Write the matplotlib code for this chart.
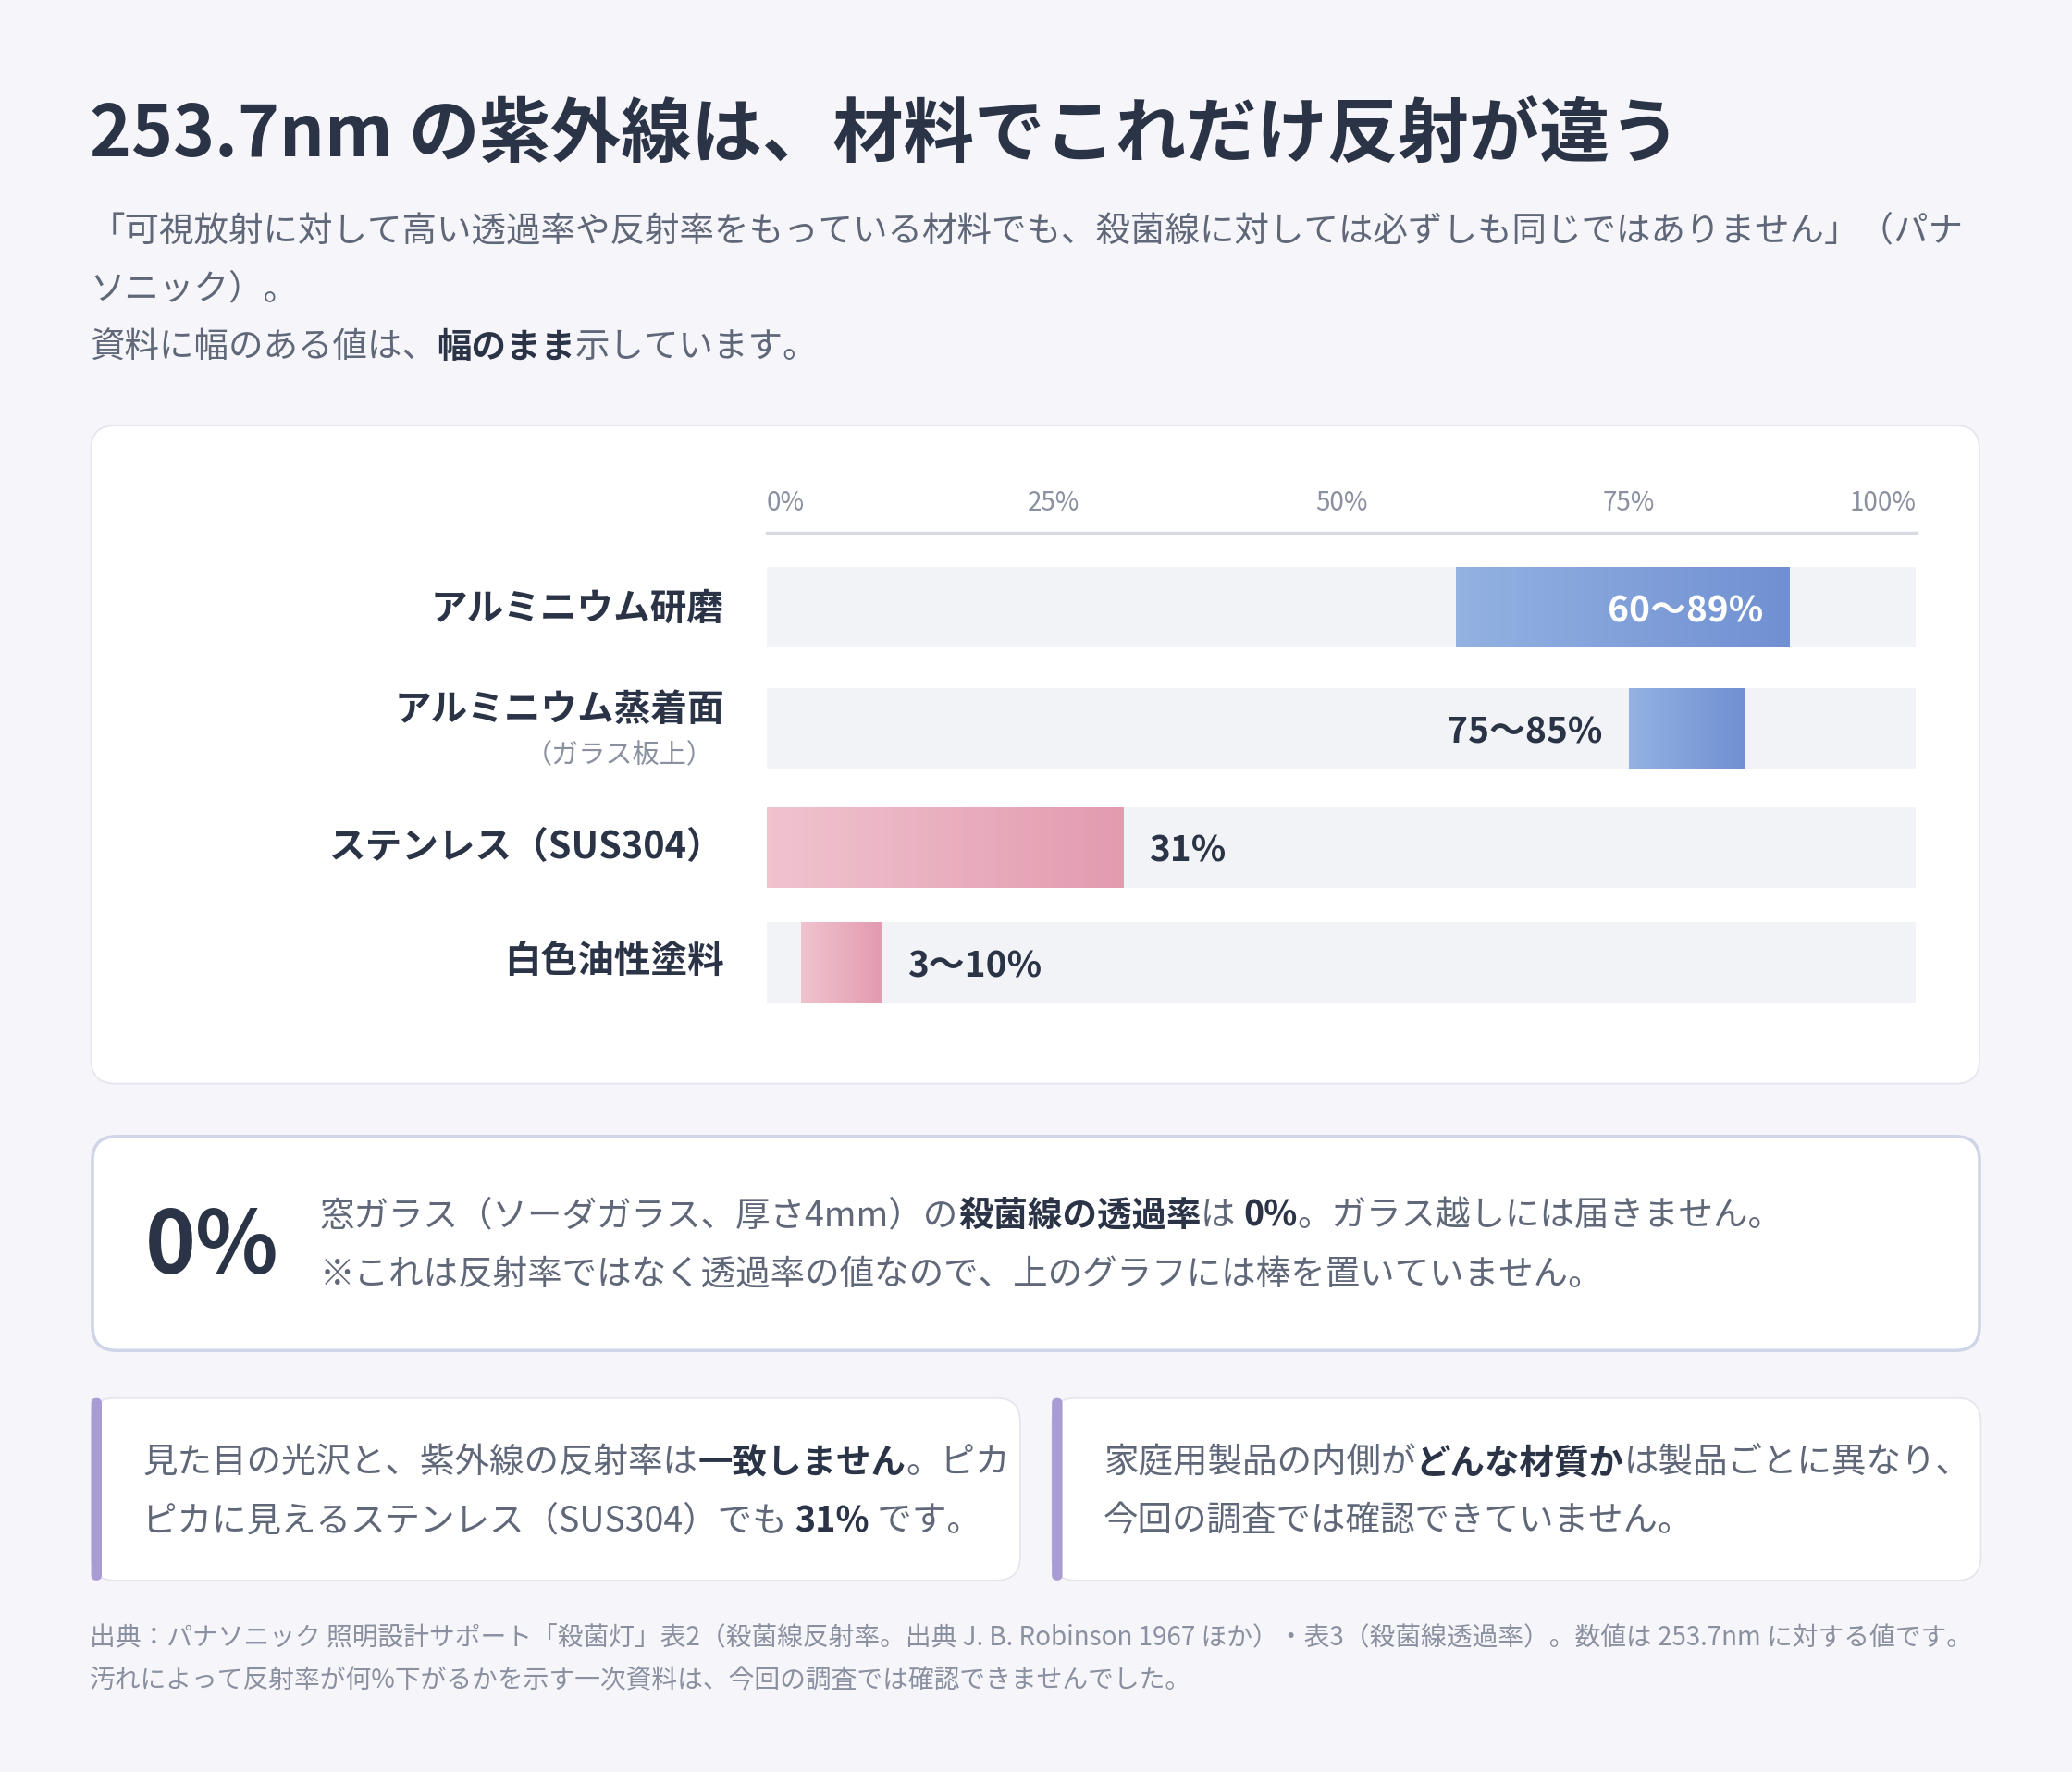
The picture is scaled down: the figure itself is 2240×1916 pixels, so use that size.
import matplotlib
matplotlib.use("Agg")
import matplotlib.pyplot as plt
import numpy as np
from matplotlib.patches import FancyBboxPatch
from matplotlib.colors import LinearSegmentedColormap

plt.rcParams['font.family'] = ['Noto Sans CJK JP', 'DejaVu Sans']

materials = ["アルミニウム研磨", "アルミニウム蒸着面", "ステンレス（SUS304）", "白色油性塗料"]
sublabels = ["", "（ガラス板上）", "", ""]
low = [60, 75, 0, 3]
high = [89, 85, 31, 10]
value_labels = ["60〜89%", "75〜85%", "31%", "3〜10%"]
ticks = [0, 25, 50, 75, 100]
tick_labels = ["0%", "25%", "50%", "75%", "100%"]

W, H = 1568, 1341
S = 2240 / W
fig = plt.figure(figsize=(22.4, 19.16), dpi=100)
fig.patch.set_facecolor("#f6f6fa")
bg = fig.add_axes([0, 0, 1, 1])
bg.set_xlim(0, W); bg.set_ylim(H, 0); bg.axis("off")

DARK = "#2b3446"; GREY = "#5f6778"; LIGHT = "#8a90a0"
BODY = 27

def card(x, y, w, h, ec="#e3e5ec", lw=1.2, fc="white", r=18):
    bg.add_patch(FancyBboxPatch((x, y), w, h, boxstyle=f"round,pad=0,rounding_size={r}",
                                fc=fc, ec=ec, lw=lw, zorder=1))

fig.canvas.draw()
R = fig.canvas.get_renderer()

def runs(x, y, parts, size, color=GREY, va="center"):
    for txt, bold in parts:
        t = bg.text(x, y, txt, fontsize=size, color=DARK if bold else color,
                    fontweight="bold" if bold else "normal", va=va, ha="left", zorder=5)
        bb = t.get_window_extent(renderer=R)
        x += bb.width / S

bg.text(68, 103, "253.7nm の紫外線は、材料でこれだけ反射が違う", fontsize=55, fontweight="bold",
        color=DARK, va="center")
bg.text(68, 175, "「可視放射に対して高い透過率や反射率をもっている材料でも、殺菌線に対しては必ずしも同じではありません」（パナ",
        fontsize=BODY, color=GREY, va="center")
bg.text(68, 219, "ソニック）。", fontsize=BODY, color=GREY, va="center")
runs(68, 263, [("資料に幅のある値は、", False), ("幅のまま", True), ("示しています。", False)], BODY)

card(69, 322, 1429, 498)
x0, x1 = 580, 1450
ax = fig.add_axes([x0 / W, 1 - 771 / H, (x1 - x0) / W, (771 - 411) / H])
ax.axis("off")
ys = [0.04, 1.06, 2.06, 3.03]
bh = 0.68
ax.barh(ys, [100] * 4, left=0, height=bh, color="#f2f3f6", zorder=1)
cmaps = [("#93b2e2", "#7090d2"), ("#93b2e2", "#7090d2"), ("#f0c3cf", "#e39bb0"), ("#f0c3cf", "#e39bb0")]
bars = ax.barh(ys, np.array(high) - np.array(low), left=low, height=bh, color="none", zorder=2)
for b, (c0, c1), lo, hi, y in zip(bars, cmaps, low, high, ys):
    cm = LinearSegmentedColormap.from_list("g", [c0, c1])
    im = ax.imshow(np.linspace(0, 1, 100).reshape(1, -1), cmap=cm, aspect="auto",
                   extent=(lo, hi, y + bh / 2, y - bh / 2), zorder=2)
    im.set_clip_path(b)
for i, (lo, hi, lab, y) in enumerate(zip(low, high, value_labels, ys)):
    if i == 0:
        ax.text(hi - 2.3, y + 0.03, lab, ha="right", va="center", fontsize=28, fontweight="bold", color="white", zorder=3)
    elif i == 1:
        ax.text(lo - 2.3, y + 0.03, lab, ha="right", va="center", fontsize=28, fontweight="bold", color=DARK, zorder=3)
    else:
        ax.text(hi + 2.3, y + 0.03, lab, ha="left", va="center", fontsize=28, fontweight="bold", color=DARK, zorder=3)
ax.set_xlim(0, 100)
ax.set_ylim(3.5, -0.5)

bg.plot([x0, x1], [403, 403], color="#d8dbe3", lw=2.5, zorder=3)
for t, tl in zip(ticks, tick_labels):
    xp = x0 + (x1 - x0) * t / 100
    ha = "left" if t == 0 else ("right" if t == 100 else "center")
    bg.text(xp, 381, tl, fontsize=20, color=LIGHT, ha=ha, va="center")

label_y = [461, 537, 641, 728]
for m, sl, yy in zip(materials, sublabels, label_y):
    bg.text(548, yy, m, fontsize=28.5, fontweight="bold", color=DARK, ha="right", va="center")
    if sl:
        bg.text(540, 572, sl, fontsize=21, color=LIGHT, ha="right", va="center")

card(70, 860, 1428, 162, ec="#cfd5e6", lw=2.5)
bg.text(110, 944, "0%", fontsize=67, fontweight="bold", color=DARK, va="center")
runs(242, 920, [("窓ガラス（ソーダガラス、厚さ4mm）の", False), ("殺菌線の透過率", True), ("は ", False),
                ("0%", True), ("。ガラス越しには届きません。", False)], BODY)
runs(242, 965, [("※これは反射率ではなく透過率の値なので、上のグラフには棒を置いていません。", False)], BODY)

for xx in (69, 796):
    card(xx, 1058, 703, 138)
    bg.add_patch(FancyBboxPatch((xx, 1058), 8, 138, boxstyle="round,pad=0,rounding_size=4",
                                fc="#a99bd4", ec="none", zorder=2))
runs(108, 1107, [("見た目の光沢と、紫外線の反射率は", False), ("一致しません", True), ("。ピカ", False)], BODY)
runs(108, 1151, [("ピカに見えるステンレス（SUS304）でも ", False), ("31%", True), (" です。", False)], BODY)
runs(835, 1107, [("家庭用製品の内側が", False), ("どんな材質か", True), ("は製品ごとに異なり、", False)], BODY)
runs(835, 1151, [("今回の調査では確認できていません。", False)], BODY)

bg.text(68, 1240, "出典：パナソニック 照明設計サポート「殺菌灯」表2（殺菌線反射率。出典 J. B. Robinson 1967 ほか）・表3（殺菌線透過率）。数値は 253.7nm に対する値です。",
        fontsize=20, color=LIGHT, va="center")
bg.text(68, 1272, "汚れによって反射率が何%下がるかを示す一次資料は、今回の調査では確認できませんでした。",
        fontsize=20, color=LIGHT, va="center")

fig.savefig("out.png", dpi=100, facecolor=fig.get_facecolor())
